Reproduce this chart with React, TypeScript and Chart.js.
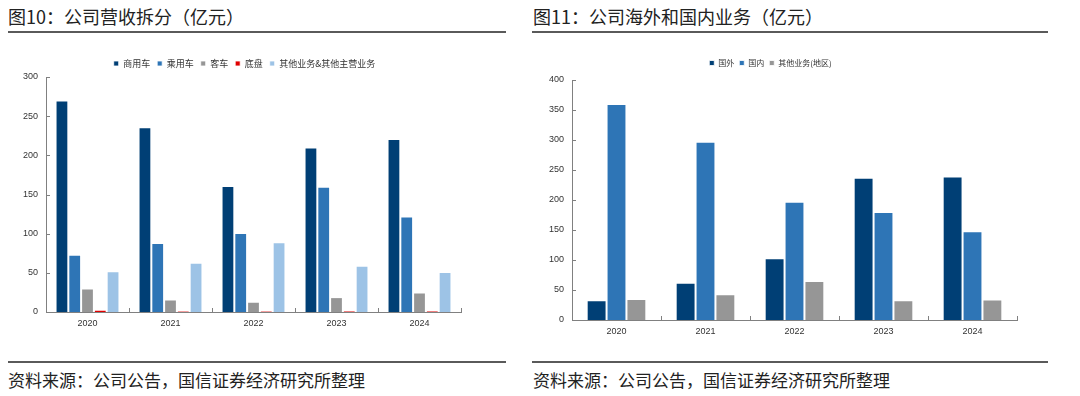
import React, { useEffect, useRef } from "react";
import { Chart, registerables } from "chart.js";

Chart.register(...registerables);

const years = ["2020", "2021", "2022", "2023", "2024"];

// Left chart: 公司营收拆分（亿元）
const commercial = [270, 236, 161, 210, 221];
const passenger = [73, 88, 101, 160, 122];
const bus = [30, 16, 13, 19, 25];
const chassis = [3, 1, 1, 1.5, 1.5];
const otherBiz = [52, 63, 89, 59, 51];
const leftTicks = [0, 50, 100, 150, 200, 250, 300];

// Right chart: 公司海外和国内业务（亿元）
const overseas = [33, 62, 103, 237, 239];
const domestic = [360, 297, 197, 180, 148];
const otherRegion = [35, 43, 65, 33, 34];
const rightTicks = [0, 50, 100, 150, 200, 250, 300, 350, 400];

const CJK = '"Noto Sans CJK SC", "Noto Sans", sans-serif';
const LAT = '"Liberation Sans", Arial, sans-serif';
const AXIS = "#808080";

const innerTicks = {
  id: "innerTicks",
  afterDraw(chart: any) {
    const { ctx, chartArea } = chart;
    const x = chart.scales.x;
    const y = chart.scales.y;
    ctx.save();
    ctx.strokeStyle = AXIS;
    ctx.lineWidth = 1;
    y.ticks.forEach((_t: any, i: number) => {
      const py = Math.round(y.getPixelForTick(i)) + 0.5;
      ctx.beginPath();
      ctx.moveTo(chartArea.left, py);
      ctx.lineTo(chartArea.left + 4, py);
      ctx.stroke();
    });
    const n = x.ticks.length;
    for (let i = 1; i <= n; i++) {
      const px = Math.round(x.left + (x.width * i) / n) + 0.5;
      ctx.beginPath();
      ctx.moveTo(px, chartArea.bottom);
      ctx.lineTo(px, chartArea.bottom - 4);
      ctx.stroke();
    }
    ctx.restore();
  },
};

function legendTweak(h: number, dx: number) {
  return {
    id: "legendTweak",
    beforeInit(chart: any) {
      const legend = chart.legend;
      const fit = legend.fit;
      legend.fit = function () {
        fit.call(this);
        this.height = h;
      };
      const draw = legend.draw;
      legend.draw = function () {
        const ctx = this.ctx;
        ctx.save();
        ctx.translate(dx, 0);
        draw.call(this);
        ctx.restore();
      };
    },
  };
}

function makeOptions(o: {
  max: number;
  ticks: number[];
  yWidth: number;
  xHeight: number;
  padTop: number;
  padRight: number;
  catPct: number;
  legendPad: number;
  legendFont: number;
}) {
  return {
    responsive: false,
    animation: false as const,
    layout: { padding: { left: 0, right: o.padRight, top: o.padTop, bottom: 0 } },
    datasets: { bar: { categoryPercentage: o.catPct, barPercentage: 1 } },
    plugins: {
      tooltip: { enabled: false },
      legend: {
        display: true,
        position: "top" as const,
        labels: {
          boxWidth: 5,
          boxHeight: 5,
          padding: o.legendPad,
          color: "#333",
          font: { family: CJK, size: o.legendFont },
        },
      },
    },
    scales: {
      x: {
        grid: { display: false, drawTicks: false },
        border: { display: true, color: AXIS, width: 1 },
        ticks: { color: "#333", font: { family: LAT, size: 9 }, padding: 6, maxRotation: 0 },
        afterFit(scale: any) {
          scale.height = o.xHeight;
        },
      },
      y: {
        min: 0,
        max: o.max,
        afterBuildTicks(scale: any) {
          scale.ticks = o.ticks.map((v) => ({ value: v }));
        },
        grid: { display: false, drawTicks: false },
        border: { display: true, color: AXIS, width: 1 },
        ticks: { color: "#333", font: { family: LAT, size: 9 }, padding: 8 },
        afterFit(scale: any) {
          scale.width = o.yWidth;
        },
      },
    },
  };
}

function ds(label: string, data: number[], color: string) {
  return {
    label,
    data,
    backgroundColor: color,
    borderColor: "rgba(255,255,255,0.8)",
    borderWidth: 1,
  };
}

function LeftChart() {
  const ref = useRef<HTMLCanvasElement>(null);
  useEffect(() => {
    const chart = new Chart(ref.current!, {
      type: "bar",
      data: {
        labels: years,
        datasets: [
          ds("商用车", commercial, "#003F75"),
          ds("乘用车", passenger, "#2E75B6"),
          ds("客车", bus, "#969696"),
          ds("底盘", chassis, "#E00000"),
          ds("其他业务&其他主营业务", otherBiz, "#9DC3E6"),
        ],
      },
      options: makeOptions({
        max: 300,
        ticks: leftTicks,
        yWidth: 38,
        xHeight: 38,
        padTop: 12,
        padRight: 45,
        catPct: 0.77,
        legendPad: 7,
        legendFont: 9,
      }) as any,
      plugins: [innerTicks, legendTweak(25, 10)],
    });
    return () => chart.destroy();
  }, []);
  return <canvas ref={ref} width={498} height={310} />;
}

function RightChart() {
  const ref = useRef<HTMLCanvasElement>(null);
  useEffect(() => {
    const chart = new Chart(ref.current!, {
      type: "bar",
      data: {
        labels: years,
        datasets: [
          ds("国外", overseas, "#003F75"),
          ds("国内", domestic, "#2E75B6"),
          ds("其他业务(地区)", otherRegion, "#969696"),
        ],
      },
      options: makeOptions({
        max: 400,
        ticks: rightTicks,
        yWidth: 40,
        xHeight: 30,
        padTop: 14,
        padRight: 31,
        catPct: 0.67,
        legendPad: 5,
        legendFont: 8,
      }) as any,
      plugins: [innerTicks, legendTweak(26, -4)],
    });
    return () => chart.destroy();
  }, []);
  return <canvas ref={ref} width={516} height={310} />;
}

const titleStyle: React.CSSProperties = {
  position: "absolute",
  top: 3,
  fontSize: 18,
  lineHeight: "26px",
  color: "#222",
  whiteSpace: "nowrap",
};
const footStyle: React.CSSProperties = {
  position: "absolute",
  top: 368,
  fontSize: 17,
  lineHeight: "24px",
  color: "#222",
  whiteSpace: "nowrap",
};
const rule = (left: number, top: number, width: number): React.CSSProperties => ({
  position: "absolute",
  left,
  top,
  width,
  height: 2,
  background: "#5a5a5a",
});

export default function App() {
  return (
    <div
      style={{
        position: "absolute",
        left: 0,
        top: 0,
        width: 1080,
        height: 396,
        background: "#fff",
        fontFamily: CJK,
        overflow: "hidden",
      }}
    >
      <div style={{ ...titleStyle, left: 8 }}>图10：公司营收拆分（亿元）</div>
      <div style={{ ...titleStyle, left: 533 }}>图11：公司海外和国内业务（亿元）</div>
      <div style={rule(8, 31, 498)} />
      <div style={rule(532, 31, 516)} />
      <div style={{ position: "absolute", left: 8, top: 40 }}>
        <LeftChart />
      </div>
      <div style={{ position: "absolute", left: 532, top: 40 }}>
        <RightChart />
      </div>
      <div style={rule(8, 361, 498)} />
      <div style={rule(532, 361, 516)} />
      <div style={{ ...footStyle, left: 8 }}>资料来源：公司公告，国信证券经济研究所整理</div>
      <div style={{ ...footStyle, left: 533 }}>资料来源：公司公告，国信证券经济研究所整理</div>
    </div>
  );
}
